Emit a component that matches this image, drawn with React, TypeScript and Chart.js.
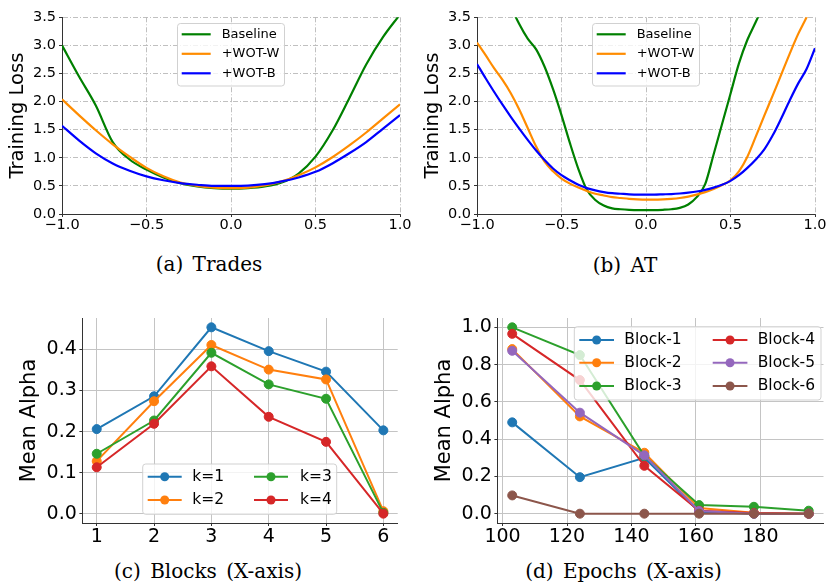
import React, { useEffect, useRef } from "react";
import { Chart, registerables } from "chart.js";

Chart.register(...registerables);

const SANS = "'DejaVu Sans', sans-serif";
const SERIF = "'DejaVu Serif', serif";

// ---------- (a) Trades ----------
const tradesX = [-1.0, -0.9, -0.8, -0.7, -0.6, -0.5, -0.4, -0.3, -0.2, -0.1, 0.0, 0.1, 0.2, 0.3, 0.4, 0.5, 0.6, 0.7, 0.8, 0.9, 1.0];
const tradesBaseline = [3.0, 2.45, 1.93, 1.28, 0.97, 0.79, 0.65, 0.55, 0.49, 0.46, 0.45, 0.46, 0.49, 0.56, 0.72, 1.02, 1.48, 2.06, 2.66, 3.15, 3.55];
const tradesWotW = [2.04, 1.76, 1.49, 1.24, 1.02, 0.82, 0.67, 0.56, 0.5, 0.47, 0.46, 0.47, 0.51, 0.58, 0.69, 0.83, 1.01, 1.22, 1.45, 1.7, 1.95];
const tradesWotB = [1.57, 1.31, 1.08, 0.9, 0.77, 0.67, 0.6, 0.55, 0.52, 0.5, 0.5, 0.505, 0.53, 0.58, 0.65, 0.75, 0.9, 1.08, 1.28, 1.52, 1.76];

// ---------- (b) AT ----------
const atX = [
  -1.0, -0.95, -0.9, -0.85, -0.8, -0.75, -0.7, -0.65, -0.6, -0.55, -0.5, -0.45, -0.4, -0.35, -0.3, -0.25, -0.2, -0.15, -0.1, -0.05,
  0.0, 0.05, 0.1, 0.15, 0.2, 0.25, 0.3, 0.35, 0.4, 0.45, 0.5, 0.55, 0.6, 0.65, 0.7, 0.75, 0.8, 0.85, 0.9, 0.95, 1.0,
];
const atBaseline = [
  5.6, 5.1, 4.6, 4.1, 3.7, 3.38, 3.12, 2.93, 2.62, 2.22, 1.76, 1.26, 0.8, 0.43, 0.25, 0.15, 0.1, 0.085, 0.075, 0.07,
  0.07, 0.07, 0.075, 0.085, 0.11, 0.17, 0.3, 0.53, 1.06, 1.6, 2.14, 2.68, 3.1, 3.42, 3.75, 4.1, 4.5, 4.9, 5.3, 5.7, 6.1,
];
const atWotW = [
  3.05, 2.83, 2.6, 2.39, 2.15, 1.86, 1.53, 1.2, 0.93, 0.76, 0.63, 0.54, 0.47, 0.41, 0.36, 0.33, 0.3, 0.285, 0.27, 0.26,
  0.255, 0.255, 0.26, 0.27, 0.285, 0.31, 0.345, 0.39, 0.445, 0.515, 0.6, 0.76, 1.02, 1.38, 1.75, 2.11, 2.48, 2.85, 3.2, 3.5, 3.85,
];
const atWotB = [
  2.67, 2.42, 2.18, 1.95, 1.73, 1.52, 1.32, 1.13, 0.96, 0.81, 0.69, 0.6, 0.52, 0.46, 0.42, 0.39, 0.37, 0.36, 0.35, 0.345,
  0.345, 0.345, 0.35, 0.355, 0.365, 0.38, 0.4, 0.43, 0.47, 0.52, 0.59, 0.69, 0.82, 0.97, 1.15, 1.4, 1.7, 2.02, 2.32, 2.58, 2.95,
];

const lossTicksX = [-1.0, -0.5, 0.0, 0.5, 1.0];
const lossTicksY = [0.0, 0.5, 1.0, 1.5, 2.0, 2.5, 3.0, 3.5];
const lossLabels = ["Baseline", "+WOT-W", "+WOT-B"];
const lossColors = ["#008000", "#ff8c00", "#0000ff"];

// ---------- (c) Blocks ----------
const blocks = [1, 2, 3, 4, 5, 6];
const k1 = [0.206, 0.286, 0.454, 0.396, 0.346, 0.203];
const k2 = [0.128, 0.274, 0.411, 0.351, 0.327, 0.006];
const k3 = [0.146, 0.227, 0.392, 0.315, 0.28, 0.002];
const k4 = [0.113, 0.219, 0.359, 0.236, 0.175, 0.0];
const kLabels = ["k=1", "k=2", "k=3", "k=4"];
const blockTicksY = [0.0, 0.1, 0.2, 0.3, 0.4];

// ---------- (d) Epochs ----------
const epochs = [103, 124, 144, 161, 178, 195];
const block1 = [0.49, 0.196, 0.3, 0.01, 0.0, 0.0];
const block2 = [0.883, 0.522, 0.327, 0.03, 0.005, 0.0];
const block3 = [1.0, 0.851, 0.31, 0.046, 0.037, 0.016];
const block4 = [0.965, 0.717, 0.257, 0.016, 0.003, 0.0];
const block5 = [0.874, 0.542, 0.313, 0.014, 0.0, 0.0];
const block6 = [0.098, 0.0, 0.0, 0.0, 0.0, 0.0];
const blockLabels = ["Block-1", "Block-2", "Block-3", "Block-4", "Block-5", "Block-6"];
const epochTicksX = [100, 120, 140, 160, 180];
const epochTicksY = [0.0, 0.2, 0.4, 0.6, 0.8, 1.0];

const tab10 = ["#1f77b4", "#ff7f0e", "#2ca02c", "#d62728", "#9467bd", "#8c564b"];

type LegendSpec = {
  box: [number, number, number, number];
  rows: number[];
  cols: [number, number][];
  lineLen: number;
  fontSize: number;
  marker: number;
  perCol: number;
};

function makeLegend(spec: LegendSpec) {
  return {
    id: "mplLegend",
    afterDraw(chart: any) {
      const ctx = chart.ctx as CanvasRenderingContext2D;
      const [bx, by, bw, bh] = spec.box;
      const r = 3;
      ctx.save();
      ctx.beginPath();
      ctx.moveTo(bx + r, by);
      ctx.lineTo(bx + bw - r, by);
      ctx.arcTo(bx + bw, by, bx + bw, by + r, r);
      ctx.lineTo(bx + bw, by + bh - r);
      ctx.arcTo(bx + bw, by + bh, bx + bw - r, by + bh, r);
      ctx.lineTo(bx + r, by + bh);
      ctx.arcTo(bx, by + bh, bx, by + bh - r, r);
      ctx.lineTo(bx, by + r);
      ctx.arcTo(bx, by, bx + r, by, r);
      ctx.closePath();
      ctx.fillStyle = "rgba(255,255,255,0.8)";
      ctx.fill();
      ctx.strokeStyle = "rgba(204,204,204,0.9)";
      ctx.lineWidth = 1;
      ctx.stroke();
      chart.data.datasets.forEach((ds: any, i: number) => {
        const col = Math.floor(i / spec.perCol);
        const row = i % spec.perCol;
        const [lx, tx] = spec.cols[col];
        const y = spec.rows[row];
        ctx.strokeStyle = ds.borderColor;
        ctx.lineWidth = ds.borderWidth;
        ctx.setLineDash([]);
        ctx.beginPath();
        ctx.moveTo(lx, y);
        ctx.lineTo(lx + spec.lineLen, y);
        ctx.stroke();
        if (spec.marker > 0) {
          ctx.fillStyle = ds.borderColor;
          ctx.beginPath();
          ctx.arc(lx + spec.lineLen / 2, y, spec.marker, 0, Math.PI * 2);
          ctx.fill();
        }
        ctx.fillStyle = "#000";
        ctx.font = `${spec.fontSize}px ${SANS}`;
        ctx.textAlign = "left";
        ctx.textBaseline = "middle";
        ctx.fillText(ds.label, tx, y);
      });
      ctx.restore();
    },
  };
}

type AxisOpts = {
  min: number;
  max: number;
  ticks: number[];
  fmt: (v: number) => string;
  fontSize: number;
  pad: number;
  size: number;
  dash: number[];
  gridColor: string;
  gridWidth: number;
  title?: { text: string; size: number; pad: number };
};

function axis(o: AxisOpts, horizontal: boolean) {
  return {
    type: "linear",
    min: o.min,
    max: o.max,
    afterBuildTicks: (s: any) => {
      s.ticks = o.ticks.map((value) => ({ value }));
    },
    afterFit: (s: any) => {
      if (horizontal) s.height = o.size;
      else s.width = o.size;
    },
    ticks: {
      autoSkip: false,
      maxRotation: 0,
      minRotation: 0,
      padding: o.pad,
      color: "#000",
      font: { family: SANS, size: o.fontSize, lineHeight: 1 },
      callback: (v: any) => o.fmt(Number(v)),
    },
    grid: {
      color: o.gridColor,
      lineWidth: o.gridWidth,
      tickLength: 3,
      tickColor: "#333",
      tickWidth: 1,
    },
    border: { display: true, color: "#333", width: 1, dash: o.dash },
    title: o.title
      ? {
          display: true,
          text: o.title.text,
          color: "#000",
          font: { family: SANS, size: o.title.size },
          padding: { top: o.title.pad, bottom: 0 },
        }
      : { display: false },
  };
}

const fmtMinus = (v: number) => v.toFixed(1).replace("-", "\u2212");
const fmt1 = (v: number) => v.toFixed(1);
const fmt0 = (v: number) => String(Math.round(v));

function lossConfig(xs: number[], ys: number[][], legend: LegendSpec, rightPad: number) {
  const dash = [5, 2, 1, 2];
  return {
    type: "line",
    data: {
      datasets: ys.map((d, i) => ({
        label: lossLabels[i],
        data: xs.map((x, j) => ({ x, y: d[j] })),
        borderColor: lossColors[i],
        backgroundColor: lossColors[i],
        borderWidth: 2.2,
        pointRadius: 0,
        cubicInterpolationMode: "monotone",
        fill: false,
        order: ys.length - i,
      })),
    },
    options: {
      responsive: false,
      maintainAspectRatio: false,
      animation: false,
      events: [],
      devicePixelRatio: 1,
      layout: { padding: { left: 0, right: rightPad, top: 17.3, bottom: 0 } },
      plugins: { legend: { display: false }, tooltip: { enabled: false } },
      scales: {
        x: axis(
          { min: -1, max: 1, ticks: lossTicksX, fmt: fmtMinus, fontSize: 14.5, pad: 0.5, size: 31, dash, gridColor: "#b0b0b0", gridWidth: 0.8 },
          true
        ),
        y: axis(
          {
            min: 0,
            max: 3.5,
            ticks: lossTicksY,
            fmt: fmtMinus,
            fontSize: 14.5,
            pad: 3,
            size: 62,
            dash,
            gridColor: "#b0b0b0",
            gridWidth: 0.8,
            title: { text: "Training Loss", size: 19.5, pad: 6.6 },
          },
          false
        ),
      },
    },
    plugins: [makeLegend(legend)],
  };
}

function markerConfig(
  xs: number[],
  ys: number[][],
  labels: string[],
  xa: { min: number; max: number; ticks: number[]; fmt: (v: number) => string },
  ya: { min: number; max: number; ticks: number[]; fmt: (v: number) => string },
  legend: LegendSpec,
  rightPad: number
) {
  return {
    type: "line",
    data: {
      datasets: ys.map((d, i) => ({
        label: labels[i],
        data: xs.map((x, j) => ({ x, y: d[j] })),
        borderColor: tab10[i],
        backgroundColor: tab10[i],
        borderWidth: 2,
        pointRadius: 4.5,
        pointBorderWidth: 1,
        pointBackgroundColor: tab10[i],
        pointBorderColor: tab10[i],
        tension: 0,
        fill: false,
        order: ys.length - i,
      })),
    },
    options: {
      responsive: false,
      maintainAspectRatio: false,
      animation: false,
      events: [],
      devicePixelRatio: 1,
      layout: { padding: { left: 0, right: rightPad, top: 23, bottom: 0 } },
      plugins: { legend: { display: false }, tooltip: { enabled: false } },
      scales: {
        x: axis({ ...xa, fontSize: 19, pad: 1.5, size: 32, dash: [], gridColor: "#c4c4c4", gridWidth: 1 }, true),
        y: axis(
          {
            ...ya,
            fontSize: 19,
            pad: 2.6,
            size: 82.4,
            dash: [],
            gridColor: "#c4c4c4",
            gridWidth: 1,
            title: { text: "Mean Alpha", size: 21, pad: 17.4 },
          },
          false
        ),
      },
    },
    plugins: [makeLegend(legend)],
  };
}

function Panel(props: { left: number; top: number; width: number; height: number; build: () => any }) {
  const ref = useRef<HTMLCanvasElement>(null);
  useEffect(() => {
    const chart = new Chart(ref.current as HTMLCanvasElement, props.build());
    return () => chart.destroy();
  }, []);
  return (
    <canvas
      ref={ref}
      width={props.width}
      height={props.height}
      style={{ position: "absolute", left: props.left, top: props.top, width: props.width, height: props.height }}
    />
  );
}

function Caption(props: { cx: number; cy: number; text: string }) {
  return (
    <div
      style={{
        position: "absolute",
        left: props.cx - 150,
        top: props.cy - 12,
        width: 300,
        height: 24,
        lineHeight: "24px",
        textAlign: "center",
        fontFamily: SERIF,
        fontSize: 20,
        color: "#000",
        wordSpacing: 3,
        whiteSpace: "nowrap",
      }}
    >
      {props.text}
    </div>
  );
}

const legendLoss: LegendSpec = {
  box: [177.5, 23.5, 107, 62.5],
  rows: [34.3, 53.8, 73.3],
  cols: [[181.7, 221.7]],
  lineLen: 29,
  fontSize: 13,
  marker: 0,
  perCol: 3,
};

const legendBlocks: LegendSpec = {
  box: [142.7, 169, 194, 50.3],
  rows: [181.7, 205],
  cols: [
    [147.7, 192.3],
    [254, 300],
  ],
  lineLen: 34,
  fontSize: 15.5,
  marker: 4.5,
  perCol: 2,
};

const legendEpochs: LegendSpec = {
  box: [159.3, 31.7, 246.7, 73.3],
  rows: [45, 67.7, 91],
  cols: [
    [164.3, 209.3],
    [297.7, 342.7],
  ],
  lineLen: 34.7,
  fontSize: 15.5,
  marker: 4.5,
  perCol: 3,
};

export default function App() {
  return (
    <div style={{ position: "fixed", left: 0, top: 0, width: 829, height: 583, background: "#fff", overflow: "hidden" }}>
      <Panel left={0} top={0} width={415} height={245} build={() => lossConfig(tradesX, [tradesBaseline, tradesWotW, tradesWotB], legendLoss, 15)} />
      <Panel left={415} top={0} width={414} height={245} build={() => lossConfig(atX, [atBaseline, atWotW, atWotB], legendLoss, 14)} />
      <Panel
        left={0}
        top={295}
        width={415}
        height={260}
        build={() =>
          markerConfig(
            blocks,
            [k1, k2, k3, k4],
            kLabels,
            { min: 0.75, max: 6.25, ticks: blocks, fmt: fmt0 },
            { min: -0.0227, max: 0.4767, ticks: blockTicksY, fmt: fmt1 },
            legendBlocks,
            17.3
          )
        }
      />
      <Panel
        left={415}
        top={295}
        width={414}
        height={260}
        build={() =>
          markerConfig(
            epochs,
            [block1, block2, block3, block4, block5, block6],
            blockLabels,
            { min: 98.4, max: 199.6, ticks: epochTicksX, fmt: fmt0 },
            { min: -0.05, max: 1.05, ticks: epochTicksY, fmt: fmt1 },
            legendEpochs,
            0
          )
        }
      />
      <Caption cx={209} cy={263.5} text="(a) Trades" />
      <Caption cx={625} cy={264.5} text="(b) AT" />
      <Caption cx={208} cy={570.7} text="(c) Blocks (X-axis)" />
      <Caption cx={623.5} cy={570.7} text="(d) Epochs (X-axis)" />
    </div>
  );
}
